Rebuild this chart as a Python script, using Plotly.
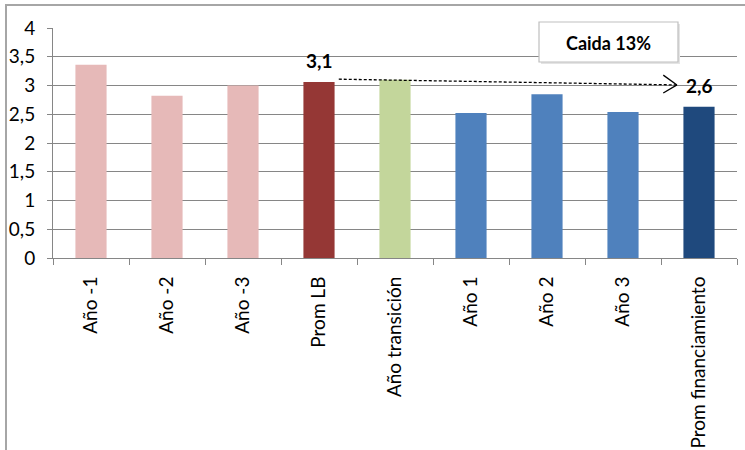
import plotly.graph_objects as go

categories = ["Año -1", "Año -2", "Año -3", "Prom LB", "Año transición",
              "Año 1", "Año 2", "Año 3", "Prom financiamiento"]
values = [3.36, 2.82, 3.00, 3.06, 3.10, 2.52, 2.85, 2.54, 2.63]
bar_colors = ["#E6B9B8", "#E6B9B8", "#E6B9B8", "#953735", "#C3D69B",
              "#4F81BD", "#4F81BD", "#4F81BD", "#1F497D"]
y_tickvals = [0, 0.5, 1, 1.5, 2, 2.5, 3, 3.5, 4]
y_ticktext = ["0", "0,5", "1", "1,5", "2", "2,5", "3", "3,5", "4"]
drop_label = "Caida 13%"

FONT = "Lato"
W, H = 745, 450
L, R, T, B = 53, 8, 28, 192
PW, PH = W - L - R, H - T - B


def px2paper(px, py):
    return (px - L) / PW, (H - B - py) / PH


def fmt(v):
    return f"{v:.1f}".replace(".", ",")


fig = go.Figure(go.Bar(
    x=categories, y=values, marker=dict(color=bar_colors, line=dict(width=0)),
    width=0.41, hoverinfo="x+y",
))

shapes = []
# outer chart border
bx0, by0 = px2paper(6, 5)
bx1, by1 = px2paper(760, 470)
shapes.append(dict(type="rect", xref="paper", yref="paper", x0=bx0, x1=bx1,
                   y0=by1, y1=by0, line=dict(color="#A6A6A6", width=2),
                   fillcolor="rgba(0,0,0,0)", layer="below"))

# dashed arrow from Prom LB to Prom financiamiento
i_lb, i_fin = 3, 8
shapes.append(dict(type="line", xref="x", yref="y", x0=i_lb + 0.26, y0=values[i_lb] + 0.05,
                   x1=i_fin - 0.29, y1=values[i_lb] - 0.05,
                   line=dict(color="black", width=1.3, dash="3px,2px")))
shapes.append(dict(type="line", xref="x", yref="y", x0=i_fin - 0.47, y0=values[i_lb] + 0.12,
                   x1=i_fin - 0.29, y1=values[i_lb] - 0.05,
                   line=dict(color="black", width=1.3)))
shapes.append(dict(type="line", xref="x", yref="y", x0=i_fin - 0.47, y0=values[i_lb] - 0.19,
                   x1=i_fin - 0.29, y1=values[i_lb] - 0.05,
                   line=dict(color="black", width=1.3)))

# Caida box with shadow
sx0, sy0 = px2paper(541, 64)
sx1, sy1 = px2paper(680, 24)
shapes.append(dict(type="rect", xref="paper", yref="paper", x0=sx0, x1=sx1, y0=sy0, y1=sy1,
                   line=dict(width=0), fillcolor="#E4E4E4"))
cx0, cy0 = px2paper(539, 62)
cx1, cy1 = px2paper(678, 22)
shapes.append(dict(type="rect", xref="paper", yref="paper", x0=cx0, x1=cx1, y0=cy0, y1=cy1,
                   line=dict(color="#BFBFBF", width=1.2), fillcolor="white"))

tx, ty = px2paper(608, 43)
annotations = [
    dict(xref="paper", yref="paper", x=tx, y=ty, xanchor="center", yanchor="middle",
         text=f"<b>{drop_label}</b>",
         showarrow=False, font=dict(family=FONT, size=18, color="black")),
    dict(xref="x", yref="y", x=i_lb, y=3.41, xanchor="center", yanchor="middle",
         yshift=1, text=f"<b>{fmt(values[i_lb])}</b>",
         showarrow=False, font=dict(family=FONT, size=19, color="black")),
    dict(xref="x", yref="y", x=i_fin, y=2.97, xanchor="center", yanchor="middle",
         yshift=2, text=f"<b>{fmt(values[i_fin])}</b>",
         showarrow=False, font=dict(family=FONT, size=19, color="black")),
]

fig.update_layout(
    width=W, height=H,
    margin=dict(l=L, r=R, t=T, b=B, autoexpand=False),
    paper_bgcolor="white", plot_bgcolor="white",
    showlegend=False, bargap=0.59,
    font=dict(family=FONT, size=19, color="black"),
    shapes=shapes, annotations=annotations,
    xaxis=dict(type="category", tickangle=-90, showgrid=False,
               showline=True, linecolor="#868686", linewidth=1,
               ticks="outside", tickson="boundaries", ticklen=6, tickcolor="#868686",
               ticklabelstandoff=10,
               tickfont=dict(family=FONT, size=19, color="black")),
    yaxis=dict(range=[0, 4], tickvals=y_tickvals, ticktext=y_ticktext,
               showgrid=True, gridcolor="#868686", gridwidth=1,
               showline=True, linecolor="#868686", linewidth=1,
               ticks="outside", ticklen=5, tickcolor="#868686",
               ticklabelstandoff=8,
               tickfont=dict(family=FONT, size=19, color="black"),
               zeroline=False),
)

fig.write_html("out.html", config={"displayModeBar": False},
               post_script="document.body.style.margin='0';document.body.style.overflow='hidden';")
